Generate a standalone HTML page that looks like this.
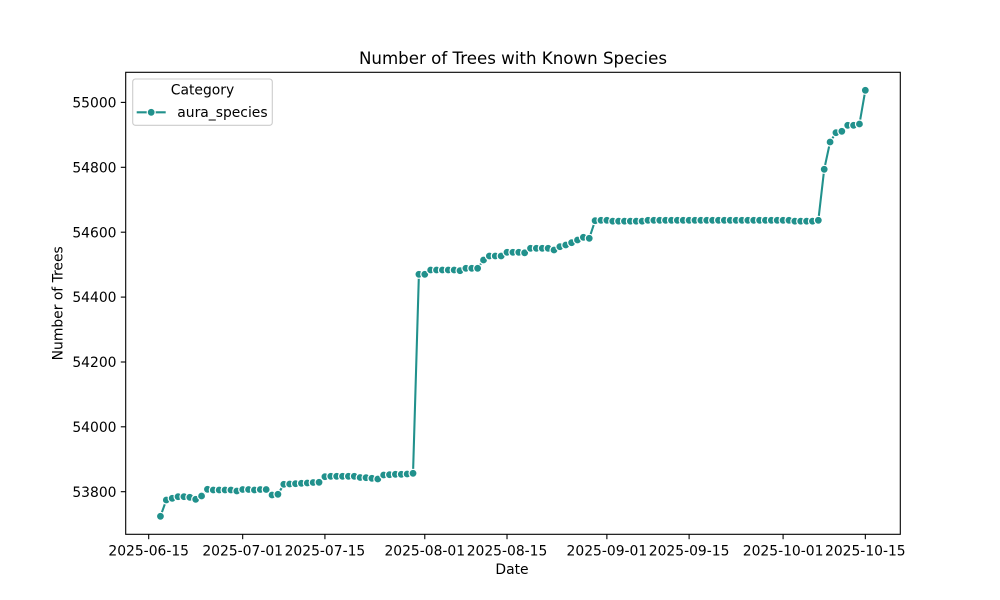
<!DOCTYPE html>
<html>
<head>
<meta charset="utf-8">
<style>
html,body{margin:0;padding:0;background:#fff;}
svg{display:block;}
text{font-family:"DejaVu Sans","Liberation Sans",sans-serif;fill:#000;}
</style>
</head>
<body>
<svg width="1000" height="600" viewBox="0 0 1000 600" xmlns="http://www.w3.org/2000/svg">
<rect width="1000" height="600" fill="#fff"/>

<!-- title -->
<text x="513" y="64" font-size="16.67" text-anchor="middle">Number of Trees with Known Species</text>

<!-- series line -->
<polyline fill="none" stroke="#21918c" stroke-width="2.08" stroke-linejoin="round" stroke-linecap="round" points="
160.45,516.3 166.32,500 172.20,498.3 178.07,496.7 183.94,496.7 189.82,497.3 195.69,499.3 201.57,496 207.44,489.3 213.31,490 219.19,490 225.06,490 230.94,490 236.81,491 242.68,489.5 248.56,489.5 254.43,490 260.31,489.5 266.18,489.5 272.05,495 277.93,494.3 283.80,484.3 289.68,484 295.55,483.7 301.42,483.3 307.30,483 313.17,482.5 319.05,482.3 324.92,476.7 330.79,476.3 336.67,476.3 342.54,476.3 348.42,476.3 354.29,476.3 360.16,477.5 366.04,477.7 371.91,478.3 377.79,479 383.66,475 389.53,474.7 395.41,474.3 401.28,474.3 407.16,474 413.03,473.3 418.90,274.3 424.78,274.3 430.65,270 436.53,270 442.40,270 448.27,270 454.15,270 460.02,270.7 465.90,268.3 471.77,268.3 477.64,268.3 483.52,260 489.39,256 495.27,256 501.14,256 507.01,252.3 512.89,252.3 518.76,252.3 524.64,252.8 530.51,248.3 536.38,248.3 542.26,248.3 548.13,248.3 554.01,250 559.88,246.7 565.75,245 571.63,242.7 577.50,240 583.38,237.3 589.25,238.3 595.12,220.7 601.00,220.3 606.87,220.3 612.75,221.2 618.62,221.2 624.49,221.2 630.37,221.2 636.24,221.2 642.12,221.2 647.99,220.3 653.86,220.3 659.74,220.3 665.61,220.3 671.49,220.3 677.36,220.3 683.23,220.3 689.11,220.3 694.98,220.3 700.86,220.3 706.73,220.3 712.60,220.3 718.48,220.3 724.35,220.3 730.23,220.3 736.10,220.3 741.97,220.3 747.85,220.3 753.72,220.3 759.60,220.3 765.47,220.3 771.34,220.3 777.22,220.3 783.09,220.3 788.97,220.3 794.84,221.2 800.71,221.2 806.59,221.2 812.46,221.2 818.34,220.3 824.21,169.3 830.08,142 835.96,132.7 841.83,131.3 847.71,125.3 853.58,125.3 859.45,124 865.33,90.3"/>

<!-- markers -->
<g fill="#21918c" stroke="#fff" stroke-width="1.2">
<circle cx="160.45" cy="516.3" r="4"/><circle cx="166.32" cy="500" r="4"/><circle cx="172.20" cy="498.3" r="4"/><circle cx="178.07" cy="496.7" r="4"/><circle cx="183.94" cy="496.7" r="4"/><circle cx="189.82" cy="497.3" r="4"/><circle cx="195.69" cy="499.3" r="4"/><circle cx="201.57" cy="496" r="4"/><circle cx="207.44" cy="489.3" r="4"/><circle cx="213.31" cy="490" r="4"/><circle cx="219.19" cy="490" r="4"/><circle cx="225.06" cy="490" r="4"/><circle cx="230.94" cy="490" r="4"/><circle cx="236.81" cy="491" r="4"/><circle cx="242.68" cy="489.5" r="4"/><circle cx="248.56" cy="489.5" r="4"/><circle cx="254.43" cy="490" r="4"/><circle cx="260.31" cy="489.5" r="4"/><circle cx="266.18" cy="489.5" r="4"/><circle cx="272.05" cy="495" r="4"/><circle cx="277.93" cy="494.3" r="4"/><circle cx="283.80" cy="484.3" r="4"/><circle cx="289.68" cy="484" r="4"/><circle cx="295.55" cy="483.7" r="4"/><circle cx="301.42" cy="483.3" r="4"/><circle cx="307.30" cy="483" r="4"/><circle cx="313.17" cy="482.5" r="4"/><circle cx="319.05" cy="482.3" r="4"/><circle cx="324.92" cy="476.7" r="4"/><circle cx="330.79" cy="476.3" r="4"/><circle cx="336.67" cy="476.3" r="4"/><circle cx="342.54" cy="476.3" r="4"/><circle cx="348.42" cy="476.3" r="4"/><circle cx="354.29" cy="476.3" r="4"/><circle cx="360.16" cy="477.5" r="4"/><circle cx="366.04" cy="477.7" r="4"/><circle cx="371.91" cy="478.3" r="4"/><circle cx="377.79" cy="479" r="4"/><circle cx="383.66" cy="475" r="4"/><circle cx="389.53" cy="474.7" r="4"/><circle cx="395.41" cy="474.3" r="4"/><circle cx="401.28" cy="474.3" r="4"/><circle cx="407.16" cy="474" r="4"/><circle cx="413.03" cy="473.3" r="4"/>
<circle cx="418.90" cy="274.3" r="4"/><circle cx="424.78" cy="274.3" r="4"/><circle cx="430.65" cy="270" r="4"/><circle cx="436.53" cy="270" r="4"/><circle cx="442.40" cy="270" r="4"/><circle cx="448.27" cy="270" r="4"/><circle cx="454.15" cy="270" r="4"/><circle cx="460.02" cy="270.7" r="4"/><circle cx="465.90" cy="268.3" r="4"/><circle cx="471.77" cy="268.3" r="4"/><circle cx="477.64" cy="268.3" r="4"/><circle cx="483.52" cy="260" r="4"/><circle cx="489.39" cy="256" r="4"/><circle cx="495.27" cy="256" r="4"/><circle cx="501.14" cy="256" r="4"/><circle cx="507.01" cy="252.3" r="4"/><circle cx="512.89" cy="252.3" r="4"/><circle cx="518.76" cy="252.3" r="4"/><circle cx="524.64" cy="252.8" r="4"/><circle cx="530.51" cy="248.3" r="4"/><circle cx="536.38" cy="248.3" r="4"/><circle cx="542.26" cy="248.3" r="4"/><circle cx="548.13" cy="248.3" r="4"/><circle cx="554.01" cy="250" r="4"/><circle cx="559.88" cy="246.7" r="4"/><circle cx="565.75" cy="245" r="4"/><circle cx="571.63" cy="242.7" r="4"/><circle cx="577.50" cy="240" r="4"/><circle cx="583.38" cy="237.3" r="4"/><circle cx="589.25" cy="238.3" r="4"/>
<circle cx="595.12" cy="220.7" r="4"/><circle cx="601.00" cy="220.3" r="4"/><circle cx="606.87" cy="220.3" r="4"/><circle cx="612.75" cy="221.2" r="4"/><circle cx="618.62" cy="221.2" r="4"/><circle cx="624.49" cy="221.2" r="4"/><circle cx="630.37" cy="221.2" r="4"/><circle cx="636.24" cy="221.2" r="4"/><circle cx="642.12" cy="221.2" r="4"/><circle cx="647.99" cy="220.3" r="4"/><circle cx="653.86" cy="220.3" r="4"/><circle cx="659.74" cy="220.3" r="4"/><circle cx="665.61" cy="220.3" r="4"/><circle cx="671.49" cy="220.3" r="4"/><circle cx="677.36" cy="220.3" r="4"/><circle cx="683.23" cy="220.3" r="4"/><circle cx="689.11" cy="220.3" r="4"/><circle cx="694.98" cy="220.3" r="4"/><circle cx="700.86" cy="220.3" r="4"/><circle cx="706.73" cy="220.3" r="4"/><circle cx="712.60" cy="220.3" r="4"/><circle cx="718.48" cy="220.3" r="4"/><circle cx="724.35" cy="220.3" r="4"/><circle cx="730.23" cy="220.3" r="4"/><circle cx="736.10" cy="220.3" r="4"/><circle cx="741.97" cy="220.3" r="4"/><circle cx="747.85" cy="220.3" r="4"/><circle cx="753.72" cy="220.3" r="4"/><circle cx="759.60" cy="220.3" r="4"/><circle cx="765.47" cy="220.3" r="4"/><circle cx="771.34" cy="220.3" r="4"/><circle cx="777.22" cy="220.3" r="4"/><circle cx="783.09" cy="220.3" r="4"/><circle cx="788.97" cy="220.3" r="4"/><circle cx="794.84" cy="221.2" r="4"/><circle cx="800.71" cy="221.2" r="4"/><circle cx="806.59" cy="221.2" r="4"/><circle cx="812.46" cy="221.2" r="4"/><circle cx="818.34" cy="220.3" r="4"/>
<circle cx="824.21" cy="169.3" r="4"/><circle cx="830.08" cy="142" r="4"/><circle cx="835.96" cy="132.7" r="4"/><circle cx="841.83" cy="131.3" r="4"/><circle cx="847.71" cy="125.3" r="4"/><circle cx="853.58" cy="125.3" r="4"/><circle cx="859.45" cy="124" r="4"/><circle cx="865.33" cy="90.3" r="4"/>
</g>

<!-- axes frame -->
<rect x="125.7" y="72.3" width="774.6" height="462" fill="none" stroke="#000" stroke-width="1.1"/>

<!-- y ticks -->
<g stroke="#000" stroke-width="1.1">
<line x1="120.8" y1="491.7" x2="125.7" y2="491.7"/>
<line x1="120.8" y1="426.8" x2="125.7" y2="426.8"/>
<line x1="120.8" y1="362.0" x2="125.7" y2="362.0"/>
<line x1="120.8" y1="297.1" x2="125.7" y2="297.1"/>
<line x1="120.8" y1="232.2" x2="125.7" y2="232.2"/>
<line x1="120.8" y1="167.3" x2="125.7" y2="167.3"/>
<line x1="120.8" y1="102.4" x2="125.7" y2="102.4"/>
</g>
<g font-size="13.89" text-anchor="end">
<text x="116.5" y="496.8">53800</text>
<text x="116.5" y="431.9">54000</text>
<text x="116.5" y="367.1">54200</text>
<text x="116.5" y="302.2">54400</text>
<text x="116.5" y="237.3">54600</text>
<text x="116.5" y="172.4">54800</text>
<text x="116.5" y="107.5">55000</text>
</g>

<!-- x ticks -->
<g stroke="#000" stroke-width="1.1">
<line x1="148.7" y1="534.3" x2="148.7" y2="539.2"/>
<line x1="242.68" y1="534.3" x2="242.68" y2="539.2"/>
<line x1="324.92" y1="534.3" x2="324.92" y2="539.2"/>
<line x1="424.78" y1="534.3" x2="424.78" y2="539.2"/>
<line x1="507.01" y1="534.3" x2="507.01" y2="539.2"/>
<line x1="606.87" y1="534.3" x2="606.87" y2="539.2"/>
<line x1="689.11" y1="534.3" x2="689.11" y2="539.2"/>
<line x1="783.09" y1="534.3" x2="783.09" y2="539.2"/>
<line x1="865.33" y1="534.3" x2="865.33" y2="539.2"/>
</g>
<g font-size="13.89" text-anchor="middle">
<text x="148.7" y="555.5">2025-06-15</text>
<text x="242.68" y="555.5">2025-07-01</text>
<text x="324.92" y="555.5">2025-07-15</text>
<text x="424.78" y="555.5">2025-08-01</text>
<text x="507.01" y="555.5">2025-08-15</text>
<text x="606.87" y="555.5">2025-09-01</text>
<text x="689.11" y="555.5">2025-09-15</text>
<text x="783.09" y="555.5">2025-10-01</text>
<text x="865.33" y="555.5">2025-10-15</text>
</g>

<!-- axis labels -->
<text x="512" y="574" font-size="13.89" text-anchor="middle">Date</text>
<text transform="translate(62.5,303.3) rotate(-90)" font-size="13.89" text-anchor="middle">Number of Trees</text>

<!-- legend -->
<rect x="132.7" y="79" width="139.6" height="46.3" rx="2.8" ry="2.8" fill="#fff" fill-opacity="0.8" stroke="#cccccc" stroke-width="1.1"/>
<text x="202.5" y="94.5" font-size="13.89" text-anchor="middle">Category</text>
<line x1="136.7" y1="112.3" x2="165.7" y2="112.3" stroke="#21918c" stroke-width="2.08"/>
<circle cx="151.2" cy="112.3" r="4" fill="#21918c" stroke="#fff" stroke-width="1.2"/>
<text x="177.3" y="117.2" font-size="13.89">aura_species</text>
</svg>
</body>
</html>
